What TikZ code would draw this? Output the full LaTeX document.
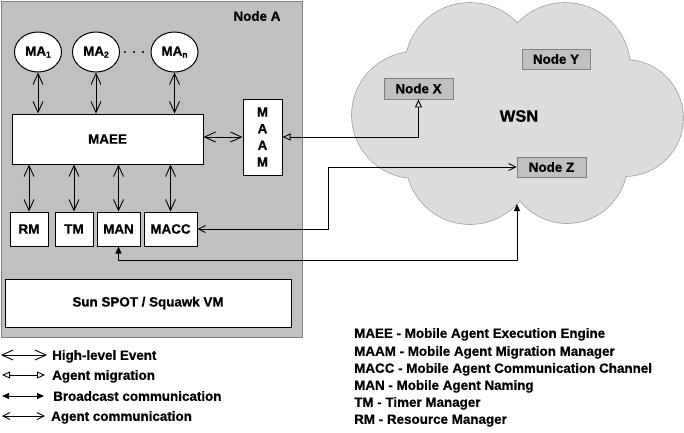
\documentclass[tikz,border=0pt]{standalone}
\usepackage{fontspec}
\setmainfont{Liberation Sans}[BoldFeatures={FakeBold=0.7}]
\usetikzlibrary{arrows.meta,shapes.geometric}
\definecolor{nodeAfill}{RGB}{192,192,192}
\definecolor{nodeAline}{RGB}{128,128,128}
\definecolor{cloudfill}{RGB}{221,221,221}
\definecolor{cloudline}{RGB}{165,165,165}
\definecolor{wsnbox}{RGB}{192,192,192}
\definecolor{wsnline}{RGB}{128,128,128}
\newcommand\agsub[1]{\raisebox{-1.8pt}{\fontsize{8.5}{9}\selectfont #1}}
\begin{document}
\begin{tikzpicture}[x=1pt,y=-1pt,
  lbl/.style={font=\fontsize{13.4}{15}\selectfont\bfseries},
  wbox/.style={draw=black, line width=1pt, fill=white, inner sep=0pt, lbl},
  gbox/.style={draw=wsnline, line width=0.8pt, fill=wsnbox, inner sep=0pt, lbl},
  agent/.style={ellipse, draw=black, line width=1pt, fill=white, minimum width=47, minimum height=40, inner sep=0pt, lbl},
  hle/.style={line width=0.9pt, {Straight Barb[length=11pt,width=10pt]}-{Straight Barb[length=11pt,width=10pt]}},
  mig/.style={line width=0.9pt, {Triangle[open,length=8pt,width=7pt]}-{Triangle[open,length=8pt,width=7pt]}},
  bcast/.style={line width=0.9pt, {Triangle[length=7pt,width=6pt]}-{Triangle[length=7pt,width=6pt]}},
  acomm/.style={line width=0.9pt, {Straight Barb[length=7pt,width=7pt]}-{Straight Barb[length=7pt,width=7pt]}},
  legtext/.style={lbl, anchor=base west, inner sep=0pt},
]
\useasboundingbox (0,0) rectangle (684,432);

% Node A
\node[draw=nodeAline, fill=nodeAfill, line width=1pt, minimum width=301, minimum height=336, inner sep=0pt, anchor=north west] (nodeA) at (0.5,0.5) {};
\node[lbl] (nodeAlbl) at (257,16) {Node A};

% WSN cloud
\foreach \cx/\cy/\r in {470/68/65, 565/68/65, 625/118/58, 415/115/63, 470/160/64, 567/163/60, 530/118/70}
  \fill[cloudline] (\cx,\cy) circle (\r+0.8);
\foreach \cx/\cy/\r in {470/68/65, 565/68/65, 625/118/58, 415/115/63, 470/160/64, 567/163/60, 530/118/70}
  \fill[cloudfill] (\cx,\cy) circle (\r);
\node[font=\fontsize{16.5}{18}\selectfont\bfseries] (wsn) at (519,116) {WSN};
\node[gbox, minimum width=69, minimum height=21] (nodex) at (418.5,88.5) {Node X};
\node[gbox, minimum width=68, minimum height=20] (nodey) at (556,59) {Node Y};
\node[gbox, minimum width=69, minimum height=20] (nodez) at (551.5,167) {Node Z};
\coordinate (wsnb) at (517,204);

% agents
\node[agent] (maone) at (38,52) {MA\agsub{1}};
\node[agent] (matwo) at (96,52) {MA\agsub{2}};
\node[agent] (maN) at (174.5,52) {MA\agsub{n}};
\foreach \dx in {125,134,143} \fill (\dx,52) circle (1.1);

% boxes
\node[wbox, minimum width=191, minimum height=50] (maee) at (107.5,139) {MAEE};
\node[wbox, minimum width=39, minimum height=76, align=center, font=\fontsize{13.4}{16.7}\selectfont\bfseries] (maam) at (262.5,137) {M\\A\\A\\M};
\node[wbox, minimum width=38, minimum height=34] (rm) at (29,229) {RM};
\node[wbox, minimum width=38, minimum height=34] (tm) at (74,229) {TM};
\node[wbox, minimum width=43, minimum height=34] (manbox) at (118.5,229) {MAN};
\node[wbox, minimum width=53, minimum height=34] (macc) at (170.5,229) {MACC};
\node[wbox, minimum width=286, minimum height=48] (spot) at (148,303) {Sun SPOT / Squawk VM};

% high-level events
\draw[hle] (maone.south) -- (maone.south |- maee.north);
\draw[hle] (matwo.south) -- (matwo.south |- maee.north);
\draw[hle] (maN.south) -- (maN.south |- maee.north);
\draw[hle] (maee.east |- maam.west) -- (maam.west);
\draw[hle] (rm.north |- maee.south) -- (rm.north);
\draw[hle] (tm.north |- maee.south) -- (tm.north);
\draw[hle] (manbox.north |- maee.south) -- (manbox.north);
\draw[hle] (macc.north |- maee.south) -- (macc.north);

% external connectors
\draw[mig] (maam.east) -| (nodex.south);
\coordinate (bendz) at (328,167);
\draw[acomm] (nodez.west) -- (bendz) |- (macc.east);
\coordinate (manturn) at (118.5,260);
\draw[bcast] (wsnb) |- (manturn) -- (manbox.south);

% legend (arrows)
\coordinate (l1a) at (1,355);  \coordinate (l1b) at (47,355);
\coordinate (l2a) at (2,375);  \coordinate (l2b) at (45,375);
\coordinate (l3a) at (2,396);  \coordinate (l3b) at (44,396);
\coordinate (l4a) at (2,416);  \coordinate (l4b) at (45,416);
\draw[hle] (l1a) -- (l1b);
\draw[mig] (l2a) -- (l2b);
\draw[bcast] (l3a) -- (l3b);
\draw[acomm] (l4a) -- (l4b);
\node[legtext] (t1) at (52,359.8) {High-level Event};
\node[legtext] (t2) at (52,379.8) {Agent migration};
\node[legtext] (t3) at (53,400.8) {Broadcast communication};
\node[legtext] (t4) at (51,420.8) {Agent communication};

% legend (abbreviations)
\node[legtext] (g1) at (354,337.8) {MAEE - Mobile Agent Execution Engine};
\node[legtext] (g2) at (354,355.8) {MAAM - Mobile Agent Migration Manager};
\node[legtext] (g3) at (354,372.8) {MACC - Mobile Agent Communication Channel};
\node[legtext] (g4) at (354,389.8) {MAN - Mobile Agent Naming};
\node[legtext] (g5) at (354,406.8) {TM - Timer Manager};
\node[legtext] (g6) at (354,423.8) {RM - Resource Manager};
\end{tikzpicture}
\end{document}
